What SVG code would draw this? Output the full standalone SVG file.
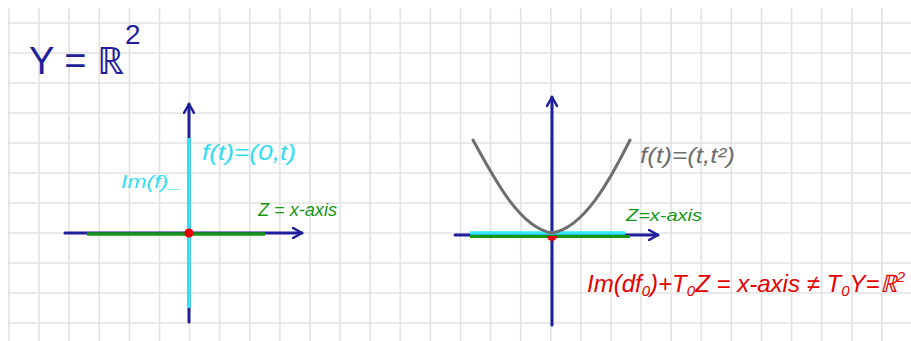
<svg xmlns="http://www.w3.org/2000/svg" width="911" height="341" viewBox="0 0 911 341">
<defs>
<style>
.grid line{stroke:#e3e3e3;stroke-width:1.6}
.axis{stroke:#1f1f9e;stroke-width:3;fill:none;stroke-linecap:round}
.hand{font-family:"Liberation Sans",Arial,sans-serif;font-style:italic}
</style>
<marker id="arr" viewBox="0 0 12 12" refX="10" refY="6" markerWidth="4" markerHeight="4" orient="auto" markerUnits="strokeWidth">
<path d="M1,1 L10,6 L1,11" fill="none" stroke="#1f1f9e" stroke-width="2.5" stroke-linecap="round" stroke-linejoin="round"/>
</marker>
</defs>
<rect width="911" height="341" fill="#fff"/>
<g class="grid" id="grid">
<line x1="9" y1="8" x2="9" y2="341"/><line x1="39.1" y1="8" x2="39.1" y2="341"/><line x1="69.2" y1="8" x2="69.2" y2="341"/><line x1="99.3" y1="8" x2="99.3" y2="341"/><line x1="129.4" y1="8" x2="129.4" y2="341"/><line x1="159.5" y1="8" x2="159.5" y2="341"/><line x1="189.6" y1="8" x2="189.6" y2="341"/><line x1="219.7" y1="8" x2="219.7" y2="341"/><line x1="249.8" y1="8" x2="249.8" y2="341"/><line x1="279.9" y1="8" x2="279.9" y2="341"/><line x1="310" y1="8" x2="310" y2="341"/><line x1="340.1" y1="8" x2="340.1" y2="341"/><line x1="370.2" y1="8" x2="370.2" y2="341"/><line x1="400.3" y1="8" x2="400.3" y2="341"/><line x1="430.4" y1="8" x2="430.4" y2="341"/><line x1="460.5" y1="8" x2="460.5" y2="341"/><line x1="490.6" y1="8" x2="490.6" y2="341"/><line x1="520.7" y1="8" x2="520.7" y2="341"/><line x1="550.8" y1="8" x2="550.8" y2="341"/><line x1="580.9" y1="8" x2="580.9" y2="341"/><line x1="611" y1="8" x2="611" y2="341"/><line x1="641.1" y1="8" x2="641.1" y2="341"/><line x1="671.2" y1="8" x2="671.2" y2="341"/><line x1="701.3" y1="8" x2="701.3" y2="341"/><line x1="731.4" y1="8" x2="731.4" y2="341"/><line x1="761.5" y1="8" x2="761.5" y2="341"/><line x1="791.6" y1="8" x2="791.6" y2="341"/><line x1="821.7" y1="8" x2="821.7" y2="341"/><line x1="851.8" y1="8" x2="851.8" y2="341"/><line x1="881.9" y1="8" x2="881.9" y2="341"/>
<line x1="8" y1="23" x2="911" y2="23"/><line x1="8" y1="53" x2="911" y2="53"/><line x1="8" y1="83" x2="911" y2="83"/><line x1="8" y1="113" x2="911" y2="113"/><line x1="8" y1="143" x2="911" y2="143"/><line x1="8" y1="173" x2="911" y2="173"/><line x1="8" y1="203" x2="911" y2="203"/><line x1="8" y1="233" x2="911" y2="233"/><line x1="8" y1="263" x2="911" y2="263"/><line x1="8" y1="293" x2="911" y2="293"/><line x1="8" y1="323" x2="911" y2="323"/>
</g>
<g id="title">
<text x="29" y="74" font-family="Liberation Sans, Arial, sans-serif" font-size="38" fill="#1f1f9e">Y = ℝ<tspan font-size="28" dy="-30" dx="1">2</tspan></text>
</g>
<g id="connectors">
<line class="axis" x1="65" y1="233" x2="302" y2="233" marker-end="url(#arr)"/>
<line class="axis" x1="189" y1="322" x2="189" y2="104" marker-end="url(#arr)"/>
<line x1="87" y1="234" x2="265" y2="234" stroke="#159615" stroke-width="3.5"/>
<line x1="189" y1="138" x2="189" y2="308" stroke="#33e3f3" stroke-width="3.5"/>
<line class="axis" x1="455" y1="235" x2="658" y2="235" marker-end="url(#arr)"/>
<line class="axis" x1="552" y1="325" x2="552" y2="97" marker-end="url(#arr)"/>
<line x1="470" y1="236.5" x2="630" y2="236.5" stroke="#159615" stroke-width="3"/>
<line x1="470" y1="233" x2="625" y2="233" stroke="#33e8f3" stroke-width="3.5"/>
<path d="M473,140 C495,180 520,228 552,233 C584,228 610,180 630,140" fill="none" stroke="#6e6e6e" stroke-width="3" stroke-linecap="round"/>
</g>
<g id="origin-left"><circle cx="189" cy="233" r="4.5" fill="#e60000"/></g>
<g id="origin-right"><path d="M547,236 h10 a5,5 0 0 1 -10,0z" fill="#e60000"/></g>
<g id="label-f-left"><text x="202" y="160" class="hand" font-size="22" fill="#33dcf0" textLength="94" lengthAdjust="spacingAndGlyphs">f(t)=(0,t)</text></g>
<g id="label-im-left"><text x="121" y="188" class="hand" font-size="19" fill="#33dcf0" textLength="60" lengthAdjust="spacingAndGlyphs">Im(f)_</text></g>
<g id="label-z-left"><text x="258" y="216" class="hand" font-size="18" fill="#159615" textLength="79" lengthAdjust="spacingAndGlyphs">Z = x-axis</text></g>
<g id="label-f-right"><text x="640" y="163" class="hand" font-size="22" fill="#6e6e6e" textLength="95" lengthAdjust="spacingAndGlyphs">f(t)=(t,t²)</text></g>
<g id="label-z-right"><text x="626" y="221" class="hand" font-size="17" fill="#159615" textLength="76" lengthAdjust="spacingAndGlyphs">Z=x-axis</text></g>
<g id="label-red"><text x="587" y="292" class="hand" font-size="24" fill="#e60000" textLength="318" lengthAdjust="spacingAndGlyphs">Im(df<tspan font-size="15" dy="4">0</tspan><tspan dy="-4">)+T</tspan><tspan font-size="15" dy="4">0</tspan><tspan dy="-4">Z = x-axis ≠ T</tspan><tspan font-size="15" dy="4">0</tspan><tspan dy="-4">Y=ℝ</tspan><tspan font-size="15" dy="-10">2</tspan></text></g>
</svg>
